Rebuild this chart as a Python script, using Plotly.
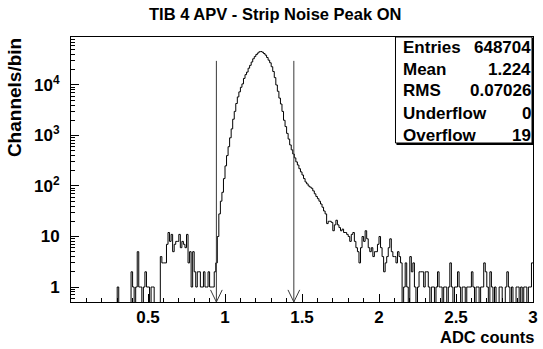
import plotly.graph_objects as go

# ---------------- data ----------------
title_text = "TIB 4 APV - Strip Noise Peak ON"
x_title = "ADC counts"
y_title = "Channels/bin"
x_min, x_max, bin_width = 0.0, 3.0, 0.01

counts = (
    [0] * 30 +
    [1, 0, 0, 0, 0, 0, 0, 0, 0, 2] +            # 0.30
    [1, 0, 1, 5, 1, 1, 0, 1, 2, 1] +            # 0.40
    [1, 0, 1, 1, 0, 0, 0, 0, 4, 3] +            # 0.50
    [3, 3, 7, 12, 8, 11, 5, 7, 8, 8] +          # 0.60
    [11, 6, 8, 7, 6, 11, 3, 5, 1, 5] +          # 0.70
    [2, 1, 2, 2, 1, 1, 2, 1, 1, 2] +            # 0.80
    [1, 1, 1, 2, 3, 10, 28, 50, 75, 140] +      # 0.90
    [250, 400, 600, 900, 1350, 2100, 3000, 4300, 5800, 7300] +          # 1.00
    [9000, 10500, 13500, 16000, 18000, 21500, 24500, 28500, 33000, 36500] +  # 1.10
    [40000, 43000, 45500, 46000, 44500, 42000, 39000, 35000, 31000, 27500] +  # 1.20
    [23000, 18500, 14000, 10000, 7500, 5500, 4200, 3000, 2000, 1500] +  # 1.30
    [1100, 850, 650, 520, 430, 360, 300, 260, 220, 190] +               # 1.40
    [165, 140, 120, 110, 100, 95, 90, 80, 70, 62] +                     # 1.50
    [56, 50, 44, 38, 32, 28, 18, 20, 20, 19] +                          # 1.60
    [13, 17, 21, 17, 15, 13, 14, 12, 12, 11] +                          # 1.70
    [10, 8, 11, 12, 8, 6, 5, 3, 6, 10] +                                # 1.80
    [8, 13, 9, 6, 5, 6, 4, 5, 5, 7] +                                   # 1.90
    [10, 6, 4, 2, 3, 4, 6, 9, 5, 4] +                                   # 2.00
    [4, 3, 5, 4, 3, 0, 1, 3, 1, 0] +                                    # 2.10
    [4, 2, 3, 1, 0, 1, 2, 2, 2, 1] +                                    # 2.20
    [2, 2, 1, 0, 1, 1, 0, 1, 2, 1] +                                    # 2.30
    [1, 0, 1, 1, 0, 1, 3, 1, 0, 1] +                                    # 2.40
    [1, 2, 1, 0, 1, 1, 0, 1, 1, 1] +                                    # 2.50
    [2, 1, 0, 1, 1, 0, 1, 1, 3, 2] +                                    # 2.60
    [1, 0, 2, 1, 0, 1, 0, 0, 1, 1] +                                    # 2.70
    [0, 0, 1, 2, 1, 0, 1, 0, 0, 1] +                                    # 2.80
    [1, 0, 1, 0, 1, 1, 0, 1, 1, 3]                                      # 2.90
)

cut_values = [0.944, 1.447]
cut_top = 3.0e4

stats_labels = ["Entries", "Mean", "RMS", "Underflow", "Overflow"]
stats_values = ["648704", "1.224", "0.07026", "0", "19"]

x_tick_vals = [0.5, 1, 1.5, 2, 2.5, 3]
x_tick_text = ["0.5", "1", "1.5", "2", "2.5", "3"]
y_tick_vals = [1, 10, 100, 1000, 10000]
y_tick_text = ["1", "10", "10<sup>2</sup>", "10<sup>3</sup>", "10<sup>4</sup>"]

# ---------------- layout geometry (pixels) ----------------
W, H = 543, 349
L, R, T, B = 71, 538, 37, 302
y_log_range = [-0.297, 4.95]
FONT = "Liberation Sans"
TICK_SIZE = 17
STAT_SIZE = 17

def px_x(px):
    return (px - L) / (R - L)

def px_y(py):
    return (B - py) / (B - T)

n = len(counts)
edges = [x_min + i * bin_width for i in range(n + 1)]
zero_floor = 1e-3
ys = [c if c > 0 else zero_floor for c in counts]

fig = go.Figure()
fig.add_trace(go.Scatter(
    x=edges, y=ys + [ys[-1]], mode="lines", line=dict(color="black", width=1, shape="hv"),
    hoverinfo="skip", showlegend=False))

y_bottom = 10 ** y_log_range[0]
arrow_dx = 0.038
arrow_top = y_bottom * 10 ** 0.24
for c in cut_values:
    fig.add_trace(go.Scatter(x=[c, c], y=[cut_top, y_bottom], mode="lines",
                             line=dict(color="#3a3a3a", width=1), showlegend=False, hoverinfo="skip"))
    fig.add_trace(go.Scatter(x=[c - arrow_dx, c, c + arrow_dx], y=[arrow_top, y_bottom, arrow_top],
                             mode="lines", line=dict(color="#3a3a3a", width=1),
                             showlegend=False, hoverinfo="skip"))

minor_y = [k * 10 ** d for d in range(-1, 5) for k in range(2, 10)]

fig.update_layout(
    width=W, height=H, margin=dict(l=L, r=W - R, t=T, b=H - B),
    paper_bgcolor="white", plot_bgcolor="white",
    font=dict(family=FONT, size=TICK_SIZE, color="black", weight="bold"),
    xaxis=dict(range=[x_min, x_max], tickmode="array", tickvals=x_tick_vals, ticktext=x_tick_text,
               ticks="inside", ticklen=8, tickcolor="black", showgrid=False, zeroline=False,
               showline=True, linecolor="black", linewidth=1, mirror=True,
               tickfont=dict(family=FONT, size=TICK_SIZE, weight="bold"),
               minor=dict(dtick=0.1, tick0=0, ticks="inside", ticklen=4, tickcolor="black", showgrid=False)),
    yaxis=dict(type="log", range=y_log_range, tickmode="array", tickvals=y_tick_vals, ticktext=y_tick_text,
               ticks="inside", ticklen=8, tickcolor="black", showgrid=False, zeroline=False,
               showline=True, linecolor="black", linewidth=1, mirror=True, ticklabelstandoff=7,
               tickfont=dict(family=FONT, size=TICK_SIZE, weight="bold"),
               minor=dict(tickmode="array", tickvals=minor_y, ticks="inside", ticklen=4,
                          tickcolor="black", showgrid=False)),
)

annotations = [
    dict(text=title_text, x=px_x(277), y=px_y(14), xref="paper", yref="paper",
         xanchor="center", yanchor="middle", showarrow=False,
         font=dict(family=FONT, size=16.5, weight="bold")),
    dict(text=x_title, x=px_x(541), y=px_y(337), xref="paper", yref="paper",
         xanchor="right", yanchor="middle", showarrow=False,
         font=dict(family=FONT, size=16.5, weight="bold")),
    dict(text=y_title, x=px_x(14), y=px_y(36), xref="paper", yref="paper",
         xanchor="center", yanchor="top", textangle=-90, showarrow=False,
         font=dict(family=FONT, size=19, weight="bold")),
]

# stats box
bx0, bx1, by0, by1 = 399, 537, 37, 143
shapes = [
    dict(type="rect", xref="paper", yref="paper", x0=px_x(bx0), x1=px_x(bx1), y0=px_y(by1), y1=px_y(by0),
         fillcolor="white", line=dict(color="black", width=1), layer="above"),
    dict(type="line", xref="paper", yref="paper", x0=px_x(bx0 + 1), x1=px_x(bx1 + 1),
         y0=px_y(by1 + 1), y1=px_y(by1 + 1), line=dict(color="black", width=2)),
    dict(type="line", xref="paper", yref="paper", x0=px_x(bx1 + 1), x1=px_x(bx1 + 1),
         y0=px_y(by0 + 1), y1=px_y(by1 + 1), line=dict(color="black", width=2)),
]
row_y = [47, 69, 91, 113, 135]
for lab, val, ry in zip(stats_labels, stats_values, row_y):
    annotations.append(dict(text=lab, x=px_x(405), y=px_y(ry), xref="paper", yref="paper",
                            xanchor="left", yanchor="middle", showarrow=False,
                            font=dict(family=FONT, size=STAT_SIZE, weight="bold")))
    annotations.append(dict(text=val, x=px_x(538), y=px_y(ry), xref="paper", yref="paper",
                            xanchor="right", yanchor="middle", showarrow=False,
                            font=dict(family=FONT, size=STAT_SIZE, weight="bold")))

fig.update_layout(annotations=annotations, shapes=shapes)
fig.write_html("out.html")
